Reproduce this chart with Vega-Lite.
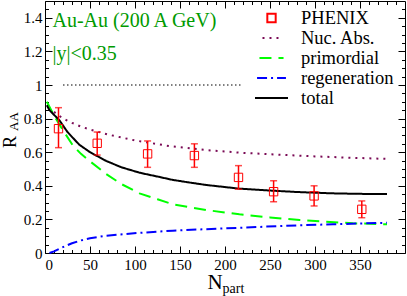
{
  "$schema": "https://vega.github.io/schema/vega-lite/v6.json",
  "width": 360,
  "height": 252,
  "autosize": {"type": "none"},
  "padding": {"left": 45, "top": 1, "right": 2, "bottom": 43},
  "background": "white",
  "config": {
    "view": {"stroke": "black", "strokeWidth": 1},
    "font": "Liberation Serif",
    "axis": {
      "domain": false,
      "grid": false,
      "labelFont": "Liberation Serif",
      "labelFontSize": 15,
      "labelColor": "black",
      "tickColor": "black",
      "tickWidth": 1,
      "titleFont": "Liberation Serif",
      "titleColor": "black",
      "titleFontWeight": "normal"
    },
    "legend": {
      "orient": "none",
      "legendX": 209,
      "legendY": 7,
      "padding": 0,
      "rowPadding": 0,
      "clipHeight": 20,
      "labelFont": "Liberation Serif",
      "labelFontSize": 18.5,
      "labelColor": "black",
      "labelOffset": 12,
      "symbolStrokeWidth": 2,
      "title": null
    }
  },
  "datasets": {
    "curves": [
      {"series": "Nuc. Abs.", "n": 10, "r": 0.84},
      {"series": "Nuc. Abs.", "n": 20, "r": 0.8},
      {"series": "Nuc. Abs.", "n": 30, "r": 0.775},
      {"series": "Nuc. Abs.", "n": 40, "r": 0.752},
      {"series": "Nuc. Abs.", "n": 50, "r": 0.735},
      {"series": "Nuc. Abs.", "n": 70, "r": 0.705},
      {"series": "Nuc. Abs.", "n": 100, "r": 0.67},
      {"series": "Nuc. Abs.", "n": 140, "r": 0.635},
      {"series": "Nuc. Abs.", "n": 180, "r": 0.612},
      {"series": "Nuc. Abs.", "n": 220, "r": 0.596},
      {"series": "Nuc. Abs.", "n": 260, "r": 0.585},
      {"series": "Nuc. Abs.", "n": 300, "r": 0.575},
      {"series": "Nuc. Abs.", "n": 340, "r": 0.567},
      {"series": "Nuc. Abs.", "n": 380, "r": 0.56},
      {"series": "primordial", "n": 2, "r": 0.9},
      {"series": "primordial", "n": 12, "r": 0.8},
      {"series": "primordial", "n": 20, "r": 0.73},
      {"series": "primordial", "n": 31, "r": 0.64},
      {"series": "primordial", "n": 40, "r": 0.59},
      {"series": "primordial", "n": 49, "r": 0.55},
      {"series": "primordial", "n": 68, "r": 0.47},
      {"series": "primordial", "n": 85, "r": 0.41},
      {"series": "primordial", "n": 105, "r": 0.355},
      {"series": "primordial", "n": 125, "r": 0.32},
      {"series": "primordial", "n": 142, "r": 0.29},
      {"series": "primordial", "n": 179, "r": 0.256},
      {"series": "primordial", "n": 216, "r": 0.23},
      {"series": "primordial", "n": 250, "r": 0.212},
      {"series": "primordial", "n": 283, "r": 0.196},
      {"series": "primordial", "n": 342, "r": 0.177},
      {"series": "primordial", "n": 380, "r": 0.171},
      {"series": "regeneration", "n": 5, "r": 0.0},
      {"series": "regeneration", "n": 10, "r": 0.01},
      {"series": "regeneration", "n": 20, "r": 0.035},
      {"series": "regeneration", "n": 30, "r": 0.058},
      {"series": "regeneration", "n": 40, "r": 0.075},
      {"series": "regeneration", "n": 50, "r": 0.088},
      {"series": "regeneration", "n": 68, "r": 0.103},
      {"series": "regeneration", "n": 105, "r": 0.12},
      {"series": "regeneration", "n": 142, "r": 0.133},
      {"series": "regeneration", "n": 179, "r": 0.142},
      {"series": "regeneration", "n": 216, "r": 0.15},
      {"series": "regeneration", "n": 246, "r": 0.157},
      {"series": "regeneration", "n": 283, "r": 0.165},
      {"series": "regeneration", "n": 320, "r": 0.171},
      {"series": "regeneration", "n": 380, "r": 0.18},
      {"series": "total", "n": 2, "r": 0.88},
      {"series": "total", "n": 5, "r": 0.85},
      {"series": "total", "n": 16, "r": 0.79},
      {"series": "total", "n": 25, "r": 0.72},
      {"series": "total", "n": 38, "r": 0.645},
      {"series": "total", "n": 50, "r": 0.6},
      {"series": "total", "n": 68, "r": 0.548},
      {"series": "total", "n": 85, "r": 0.51},
      {"series": "total", "n": 105, "r": 0.478},
      {"series": "total", "n": 125, "r": 0.455},
      {"series": "total", "n": 142, "r": 0.435},
      {"series": "total", "n": 160, "r": 0.42},
      {"series": "total", "n": 179, "r": 0.405},
      {"series": "total", "n": 216, "r": 0.383},
      {"series": "total", "n": 246, "r": 0.373},
      {"series": "total", "n": 280, "r": 0.363},
      {"series": "total", "n": 320, "r": 0.355},
      {"series": "total", "n": 350, "r": 0.352},
      {"series": "total", "n": 380, "r": 0.351}
    ],
    "phenix": [
      {"series": "PHENIX", "n": 15, "r": 0.74, "lo": 0.627, "hi": 0.865},
      {"series": "PHENIX", "n": 58, "r": 0.653, "lo": 0.583, "hi": 0.72},
      {"series": "PHENIX", "n": 114, "r": 0.59, "lo": 0.51, "hi": 0.667},
      {"series": "PHENIX", "n": 166, "r": 0.58, "lo": 0.51, "hi": 0.65},
      {"series": "PHENIX", "n": 215, "r": 0.45, "lo": 0.38, "hi": 0.52},
      {"series": "PHENIX", "n": 254, "r": 0.365, "lo": 0.305, "hi": 0.43},
      {"series": "PHENIX", "n": 299, "r": 0.34, "lo": 0.28, "hi": 0.4},
      {"series": "PHENIX", "n": 352, "r": 0.26, "lo": 0.21, "hi": 0.31}
    ],
    "unity": [
      {"n": 20, "r": 1},
      {"n": 219, "r": 1}
    ],
    "notes": [
      {"label": "Au-Au (200 A GeV)", "n": 8.3, "r": 1.345},
      {"label": "|y|<0.35", "n": 8.3, "r": 1.149}
    ]
  },
  "resolve": {"axis": {"x": "independent", "y": "independent"}},
  "layer": [
    {
      "data": {"name": "unity"},
      "mark": {"type": "line", "color": "black", "strokeWidth": 1, "strokeDash": [1.5, 2.5]},
      "encoding": {
        "x": {"field": "n", "type": "quantitative", "scale": {"domain": [0, 400], "nice": false, "zero": false},
              "axis": {"orient": "top", "values": [0, 50, 100, 150, 200, 250, 300, 350], "labels": false, "tickSize": -7, "title": null}},
        "y": {"field": "r", "type": "quantitative", "scale": {"domain": [0, 1.5], "nice": false, "zero": false},
              "axis": {"orient": "right", "values": [0, 0.2, 0.4, 0.6, 0.8, 1, 1.2, 1.4], "labels": false, "tickSize": -7, "title": null}}
      }
    },
    {
      "data": {"name": "curves"},
      "mark": {"type": "line", "strokeWidth": 2},
      "encoding": {
        "x": {"field": "n", "type": "quantitative",
              "axis": {"orient": "bottom", "values": [0, 50, 100, 150, 200, 250, 300, 350], "tickSize": -7, "labelPadding": 11,
                       "title": "N", "titleFontSize": 21, "titleX": 169.5, "titleY": 35, "titleAlign": "center", "titleBaseline": "alphabetic"}},
        "y": {"field": "r", "type": "quantitative",
              "axis": {"orient": "left", "values": [0, 0.2, 0.4, 0.6, 0.8, 1, 1.2, 1.4], "format": "~g", "tickSize": -7, "labelPadding": 10,
                       "title": "R", "titleFontSize": 18, "titleX": -35, "titleY": 140.5, "titleAngle": 270, "titleAlign": "center", "titleBaseline": "middle"}},
        "color": {"field": "series", "type": "nominal",
                  "scale": {"domain": ["PHENIX", "Nuc. Abs.", "primordial", "regeneration", "total"],
                            "range": ["#ff0000", "#7a0a55", "#00ff00", "#0000ff", "#000000"]}},
        "strokeDash": {"field": "series", "type": "nominal",
                       "scale": {"domain": ["PHENIX", "Nuc. Abs.", "primordial", "regeneration", "total"],
                                 "range": [[1, 0], [2, 5], [12, 7], [10, 4, 2, 4], [1, 0]]}}
      }
    },
    {
      "data": {"name": "phenix"},
      "mark": {"type": "rule", "color": "#ff0000", "strokeWidth": 1.5},
      "encoding": {
        "x": {"field": "n", "type": "quantitative",
              "axis": {"orient": "bottom", "values": [10, 20, 30, 40, 60, 70, 80, 90, 110, 120, 130, 140, 160, 170, 180, 190, 210, 220, 230, 240, 260, 270, 280, 290, 310, 320, 330, 340, 360, 370, 380, 390],
                       "labels": false, "tickSize": -3.5,
                       "title": "part", "titleFontSize": 14, "titleX": 177, "titleY": 39, "titleAlign": "left", "titleBaseline": "alphabetic"}},
        "y": {"field": "lo", "type": "quantitative",
              "axis": {"orient": "left", "values": [0.05, 0.1, 0.15, 0.25, 0.3, 0.35, 0.45, 0.5, 0.55, 0.65, 0.7, 0.75, 0.85, 0.9, 0.95, 1.05, 1.1, 1.15, 1.25, 1.3, 1.35, 1.45],
                       "labels": false, "tickSize": -3.5,
                       "title": "AA", "titleFontSize": 13, "titleX": -32, "titleY": 120, "titleAngle": 270, "titleAlign": "center", "titleBaseline": "middle"}},
        "y2": {"field": "hi"}
      }
    },
    {
      "data": {"name": "phenix"},
      "mark": {"type": "tick", "orient": "horizontal", "color": "#ff0000", "size": 7, "thickness": 1.5},
      "encoding": {
        "x": {"field": "n", "type": "quantitative", "axis": null},
        "y": {"field": "lo", "type": "quantitative", "axis": null}
      }
    },
    {
      "data": {"name": "phenix"},
      "mark": {"type": "tick", "orient": "horizontal", "color": "#ff0000", "size": 7, "thickness": 1.5},
      "encoding": {
        "x": {"field": "n", "type": "quantitative", "axis": null},
        "y": {"field": "hi", "type": "quantitative", "axis": null}
      }
    },
    {
      "data": {"name": "phenix"},
      "mark": {"type": "point", "filled": false, "strokeWidth": 1, "opacity": 1},
      "encoding": {
        "x": {"field": "n", "type": "quantitative",
              "axis": {"orient": "top", "values": [10, 20, 30, 40, 60, 70, 80, 90, 110, 120, 130, 140, 160, 170, 180, 190, 210, 220, 230, 240, 260, 270, 280, 290, 310, 320, 330, 340, 360, 370, 380, 390],
                       "labels": false, "tickSize": -3.5, "title": null}},
        "y": {"field": "r", "type": "quantitative",
              "axis": {"orient": "right", "values": [0.05, 0.1, 0.15, 0.25, 0.3, 0.35, 0.45, 0.5, 0.55, 0.65, 0.7, 0.75, 0.85, 0.9, 0.95, 1.05, 1.1, 1.15, 1.25, 1.3, 1.35, 1.45],
                       "labels": false, "tickSize": -3.5, "title": null}},
        "color": {"field": "series", "type": "nominal"},
        "shape": {"field": "series", "type": "nominal",
                  "scale": {"domain": ["PHENIX", "Nuc. Abs.", "primordial", "regeneration", "total"],
                            "range": ["square", "stroke", "stroke", "stroke", "stroke"]}},
        "size": {"field": "series", "type": "nominal",
                 "scale": {"domain": ["PHENIX", "Nuc. Abs.", "primordial", "regeneration", "total"],
                           "range": [70, 1089, 1089, 1089, 1089]}}
      }
    },
    {
      "data": {"name": "notes"},
      "mark": {"type": "text", "align": "left", "baseline": "alphabetic", "font": "Liberation Serif", "fontSize": 20, "color": "#009a00"},
      "encoding": {
        "x": {"field": "n", "type": "quantitative", "axis": null},
        "y": {"field": "r", "type": "quantitative", "axis": null},
        "text": {"field": "label"}
      }
    }
  ]
}
